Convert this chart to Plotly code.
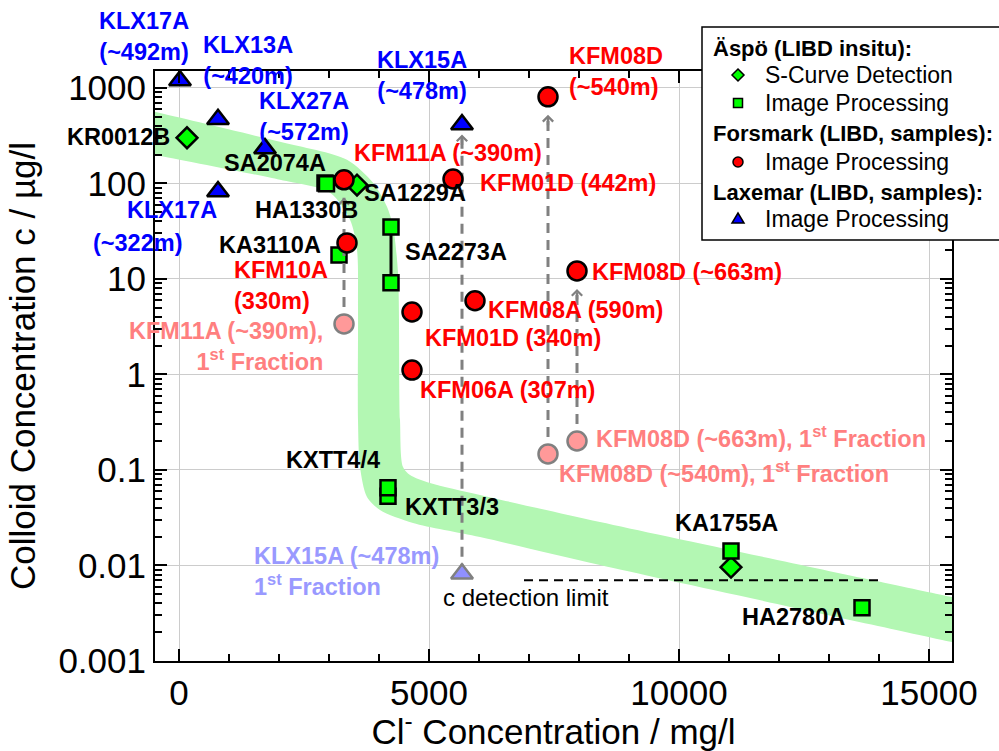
import math
import plotly.graph_objects as go

# ---------------- data ----------------
# Äspö (LIBD in situ) - S-curve detection
aspo_s_name = ["KR0012B", "SA1229A", "KA1755A"]
aspo_s_cl = [160, 3560, 11040]
aspo_s_c = [300, 96, 0.0096]

# Äspö (LIBD in situ) - image processing
aspo_i_name = ["SA2074A", "HA1330B", "KA3110A", "SA2273A", "SA2273A",
               "KXTT3/3", "KXTT4/4", "KA1755A", "HA2780A"]
aspo_i_cl = [2920, 2950, 3200, 4240, 4240, 4180, 4180, 11040, 13660]
aspo_i_c = [101, 99, 17.8, 35, 9.1, 0.053, 0.065, 0.0142, 0.0036]

# Forsmark (LIBD, samples) - image processing
fm_name = ["KFM11A (~390m)", "KFM01D (442m)", "KFM10A (330m)", "KFM08D (~540m)",
           "KFM08D (~663m)", "KFM08A (590m)", "KFM01D (340m)", "KFM06A (307m)"]
fm_cl = [3300, 5480, 3360, 7380, 7960, 5920, 4660, 4660]
fm_c = [109, 111, 23.8, 805, 12.1, 5.9, 4.5, 1.11]

# Forsmark first fractions
fm1_name = ["KFM11A (~390m)", "KFM08D (~663m)", "KFM08D (~540m)"]
fm1_cl = [3300, 7960, 7380]
fm1_c = [3.38, 0.201, 0.147]

# Laxemar (LIBD, samples) - image processing
lx_name = ["KLX17A (~492m)", "KLX13A (~420m)", "KLX27A (~572m)",
           "KLX17A (~322m)", "KLX15A (~478m)"]
lx_cl = [20, 780, 1720, 780, 5660]
lx_c = [1190, 468, 231, 82, 413]

# Laxemar first fraction
lx1_name = ["KLX15A (~478m)"]
lx1_cl = [5660]
lx1_c = [0.0082]

# colloid detection limit
det_limit_c = 0.007
det_limit_cl = [6900, 14000]

# trend band (Cl in mg/l, log10 of c in µg/l)
band_upper_cl = [-1200, -480, 2020, 3360, 3880, 4160, 4280, 4380, 4420, 4480,
                 4620, 5020, 6020, 8420, 15460, 16200]
band_upper_logc = [2.84, 2.749, 2.435, 2.246, 2.005, 1.754, 1.545, 1.063, -0.476,
                   -0.969, -1.052, -1.136, -1.262, -1.545, -2.330, -2.413]
band_lower_cl = [-1200, -480, 2020, 3020, 3420, 3560, 3580, 3580, 3620, 3760,
                 4020, 4680, 6020, 8420, 15460, 16200]
band_lower_logc = [2.37, 2.298, 2.037, 1.901, 1.618, 1.304, 0.707, -0.476, -0.969,
                   -1.283, -1.419, -1.555, -1.702, -1.995, -2.801, -2.886]

# arrows: first fraction -> full sample (cl, c_from, c_to, gap below target in px)
arrow_cl = [3300, 5660, 7380, 7960]
arrow_c_from = [3.38, 0.0082, 0.147, 0.201]
arrow_c_to = [109, 413, 805, 12.1]
arrow_gap_px = [18, 10, 18, 18]

# axes
x_range = [-480, 15460]
y_range_c = [0.001, 1500]
x_ticks = [0, 5000, 10000, 15000]
x_ticktext = ["0", "5000", "10000", "15000"]
y_ticks = [0.001, 0.01, 0.1, 1, 10, 100, 1000]
y_ticktext = ["0.001", "0.01", "0.1", "1", "10", "100", "1000"]

# ---------------- layout constants ----------------
W, H = 999, 751
ML, MR, MT, MB = 155, 47, 71, 90
PW, PH = W - ML - MR, H - MT - MB
FONT = "Arial, 'Liberation Sans', sans-serif"
GREEN = "#00ff00"
RED = "#ff0000"
BLUE = "#0000ff"
PINK = "#ff9999"
PINK_TXT = "#ff7f7f"
LBLUE = "#9090ff"
LBLUE_TXT = "#9999ff"
GREY = "#808080"
BAND = "#b3f7b3"

ylog_range = [math.log10(y_range_c[0]), math.log10(y_range_c[1])]
px_per_decade = PH / (ylog_range[1] - ylog_range[0])

fig = go.Figure()

# trend band
fig.add_trace(go.Scatter(
    x=band_upper_cl + band_lower_cl[::-1],
    y=[10 ** v for v in band_upper_logc + band_lower_logc[::-1]],
    mode="lines", fill="toself", fillcolor=BAND,
    line=dict(width=0, color=BAND, shape="spline", smoothing=0.8),
    hoverinfo="skip", showlegend=False))

# detection limit
fig.add_trace(go.Scatter(
    x=det_limit_cl, y=[det_limit_c, det_limit_c], mode="lines",
    line=dict(color="black", width=2, dash="9px,6px"),
    hoverinfo="skip", showlegend=False))

# S-curve detection (diamonds)
fig.add_trace(go.Scatter(
    x=aspo_s_cl, y=aspo_s_c, mode="markers", text=aspo_s_name,
    marker=dict(symbol="diamond", size=16, color=GREEN,
                line=dict(color="black", width=2.5)),
    showlegend=False))

# SA2273A range bar
sa_idx = [i for i, n in enumerate(aspo_i_name) if n == "SA2273A"]
fig.add_trace(go.Scatter(
    x=[aspo_i_cl[i] for i in sa_idx], y=[aspo_i_c[i] for i in sa_idx],
    mode="lines", line=dict(color="black", width=3),
    hoverinfo="skip", showlegend=False))

# image processing (squares)
fig.add_trace(go.Scatter(
    x=aspo_i_cl, y=aspo_i_c, mode="markers", text=aspo_i_name,
    marker=dict(symbol="square", size=15, color=GREEN,
                line=dict(color="black", width=2.5)),
    showlegend=False))

# dashed connectors between first fraction and full sample
for xv, c0, c1, gap in zip(arrow_cl, arrow_c_from, arrow_c_to, arrow_gap_px):
    tip_log = math.log10(c1) - gap / px_per_decade
    fig.add_trace(go.Scatter(
        x=[xv, xv], y=[c0, 10 ** tip_log], mode="lines",
        line=dict(color=GREY, width=3, dash="10px,7px"),
        hoverinfo="skip", showlegend=False))
    fig.add_annotation(x=xv, y=tip_log, xref="x", yref="y", text="",
                       showarrow=True, ax=0, ay=12, arrowhead=4,
                       arrowsize=0.8, arrowwidth=2.5, arrowcolor=GREY)

# Forsmark first fractions and samples (circles)
fig.add_trace(go.Scatter(
    x=fm1_cl, y=fm1_c, mode="markers", text=fm1_name,
    marker=dict(symbol="circle", size=19, color=PINK,
                line=dict(color=GREY, width=2.5)),
    showlegend=False))
fig.add_trace(go.Scatter(
    x=fm_cl, y=fm_c, mode="markers", text=fm_name,
    marker=dict(symbol="circle", size=19, color=RED,
                line=dict(color="black", width=2.5)),
    showlegend=False))

# Laxemar first fraction and samples (triangles)
fig.add_trace(go.Scatter(
    x=lx1_cl, y=lx1_c, mode="markers", text=lx1_name,
    marker=dict(symbol="triangle-up", size=19, color=LBLUE,
                line=dict(color=GREY, width=2.5)),
    showlegend=False))
fig.add_trace(go.Scatter(
    x=lx_cl, y=lx_c, mode="markers", text=lx_name,
    marker=dict(symbol="triangle-up", size=19, color=BLUE,
                line=dict(color="black", width=2.5)),
    showlegend=False))


# ---------------- point labels ----------------
def label(xv, cv, text, color, anchor, dx, dy, size=23.5, bold=True, align=None):
    t = f"<b>{text}</b>" if bold else text
    fig.add_annotation(
        x=xv, y=math.log10(cv), xref="x", yref="y", text=t, showarrow=False,
        xanchor=anchor, yanchor="middle", xshift=dx, yshift=dy,
        align=align or anchor, font=dict(family=FONT, size=size, color=color))


# Laxemar
label(lx_cl[0], lx_c[0], "KLX17A<br>(~492m)", BLUE, "center", -36, 44)
label(lx_cl[1], lx_c[1], "KLX13A<br>(~420m)", BLUE, "center", 30, 59)
label(lx_cl[2], lx_c[2], "KLX27A<br>(~572m)", BLUE, "center", 39, 32)
label(lx_cl[3], lx_c[3], "KLX17A", BLUE, "center", -46, -18)
label(lx_cl[3], lx_c[3], "(~322m)", BLUE, "center", -81, -51)
label(lx_cl[4], lx_c[4], "KLX15A<br>(~478m)", BLUE, "center", -40, 49)
label(lx1_cl[0], lx1_c[0], "KLX15A (~478m)<br>1<sup>st</sup> Fraction",
      LBLUE_TXT, "left", -210, 2)

# Forsmark
label(fm_cl[3], fm_c[3], "KFM08D<br>(~540m)", RED, "left", 19, 25)
label(fm_cl[0], fm_c[0], "KFM11A (~390m)", RED, "left", 8, 27)
label(fm_cl[1], fm_c[1], "KFM01D (442m)", RED, "left", 25, -4)
label(fm_cl[2], fm_c[2], "KFM10A<br>(330m)", RED, "left", -115, -43)
label(fm_cl[4], fm_c[4], "KFM08D (~663m)", RED, "left", 13, -1)
label(fm_cl[5], fm_c[5], "KFM08A (590m)", RED, "left", 11, -9)
label(fm_cl[6], fm_c[6], "KFM01D (340m)", RED, "left", 11, -26)
label(fm_cl[7], fm_c[7], "KFM06A (307m)", RED, "left", 6, -20)
label(fm1_cl[0], fm1_c[0], "KFM11A (~390m),<br>1<sup>st</sup> Fraction",
      PINK_TXT, "right", -19, -23)
label(fm1_cl[1], fm1_c[1], "KFM08D (~663m), 1<sup>st</sup> Fraction",
      PINK_TXT, "left", 17, 4)
label(fm1_cl[2], fm1_c[2], "KFM08D (~540m), 1<sup>st</sup> Fraction",
      PINK_TXT, "left", 9, -18)

# Äspö
label(aspo_s_cl[0], aspo_s_c[0], "KR0012B", "black", "right", -15, 1)
label(aspo_s_cl[1], aspo_s_c[1], "SA1229A", "black", "left", 5, -8)
label(aspo_i_cl[0], aspo_i_c[0], "SA2074A", "black", "right", 3, 20)
label(aspo_i_cl[1], aspo_i_c[1], "HA1330B", "black", "right", 33, -26)
label(aspo_i_cl[2], aspo_i_c[2], "KA3110A", "black", "right", -16, 10)
label(aspo_i_cl[3], aspo_i_c[3], "SA2273A", "black", "left", 12, -25)
label(aspo_i_cl[6], aspo_i_c[6], "KXTT4/4", "black", "right", -6, 28)
label(aspo_i_cl[5], aspo_i_c[5], "KXTT3/3", "black", "left", 15, -11)
label(aspo_i_cl[7], aspo_i_c[7], "KA1755A", "black", "center", -5, 28)
label(aspo_i_cl[8], aspo_i_c[8], "HA2780A", "black", "right", -15, -9)
label(det_limit_cl[0], det_limit_c, "c detection limit", "black", "left",
      -83, -17, size=24, bold=False)


# ---------------- legend box ----------------
def pxx(px):
    return (px - ML) / PW


def pxy(py):
    return (H - MB - py) / PH


# white panel running off the right edge, framed on left, top and bottom
lx0, lx1, ly0, ly1 = pxx(702), pxx(1400), pxy(240), pxy(27)
fig.add_shape(type="rect", xref="paper", yref="paper", layer="above",
              x0=lx0, x1=lx1, y0=ly0, y1=ly1,
              fillcolor="white", line=dict(width=0))
fig.add_shape(type="path", xref="paper", yref="paper", layer="above",
              path=f"M{lx1},{ly1} L{lx0},{ly1} L{lx0},{ly0} L{lx1},{ly0}",
              line=dict(color="black", width=1.5))

leg_mx = pxx(738)


def leg_marker(py, kind, color):
    common = dict(xref="paper", yref="paper", layer="above",
                  xsizemode="pixel", ysizemode="pixel",
                  xanchor=leg_mx, yanchor=pxy(py),
                  fillcolor=color, line=dict(color="black", width=1.5))
    if kind == "diamond":
        fig.add_shape(type="path", path="M0,6 L6,0 L0,-6 L-6,0 Z", **common)
    elif kind == "square":
        fig.add_shape(type="path", path="M-4.5,-4.5 H4.5 V4.5 H-4.5 Z", **common)
    elif kind == "circle":
        fig.add_shape(type="circle", x0=-5, x1=5, y0=-5, y1=5, **common)
    else:
        fig.add_shape(type="path", path="M-6,-4 L6,-4 L0,6 Z", **common)


def leg_text(px, py, text, bold=False, size=23):
    fig.add_annotation(x=pxx(px), y=pxy(py), xref="paper", yref="paper",
                       text=f"<b>{text}</b>" if bold else text, showarrow=False,
                       xanchor="left", yanchor="middle",
                       font=dict(family=FONT, size=size, color="black"))


leg_text(711, 49, "Äspö (LIBD insitu):", bold=True, size=22)
leg_marker(75, "diamond", GREEN)
leg_text(763, 75, "S-Curve Detection")
leg_marker(103, "square", GREEN)
leg_text(763, 103, "Image Processing")
leg_text(711, 133, "Forsmark (LIBD, samples):", bold=True, size=22)
leg_marker(162, "circle", RED)
leg_text(763, 162, "Image Processing")
leg_text(711, 192, "Laxemar (LIBD, samples):", bold=True, size=22)
leg_marker(219, "triangle", BLUE)
leg_text(763, 219, "Image Processing")

# ---------------- axes ----------------
y_minor = [m * 10 ** e for e in range(-3, 4) for m in range(2, 10)]

axis_common = dict(
    showline=True, linecolor="black", linewidth=2, mirror="ticks",
    ticks="inside", ticklen=12, tickwidth=2, tickcolor="black",
    showgrid=True, gridcolor="#cccccc", gridwidth=1, zeroline=False,
    tickfont=dict(family=FONT, size=35, color="black"),
)

fig.update_xaxes(
    range=x_range, tickmode="array", tickvals=x_ticks, ticktext=x_ticktext,
    minor=dict(ticks="inside", ticklen=7, tickwidth=2, tickcolor="black",
               dtick=1000, tick0=0, showgrid=False),
    title=dict(text="Cl<sup>-</sup> Concentration / mg/l", standoff=4,
               font=dict(family=FONT, size=35, color="black")),
    **axis_common)

fig.update_yaxes(
    type="log", range=ylog_range, tickmode="array", tickvals=y_ticks,
    ticktext=y_ticktext,
    minor=dict(ticks="inside", ticklen=7, tickwidth=2, tickcolor="black",
               tickmode="array", tickvals=y_minor, showgrid=False),
    title=dict(text="Colloid Concentration c / µg/l", standoff=12,
               font=dict(family=FONT, size=35, color="black")),
    **axis_common)

fig.update_layout(
    width=W, height=H,
    margin=dict(l=ML, r=MR, t=MT, b=MB, autoexpand=False),
    paper_bgcolor="white", plot_bgcolor="white",
    font=dict(family=FONT, color="black"),
    showlegend=False,
)

fig.write_html("out.html")
